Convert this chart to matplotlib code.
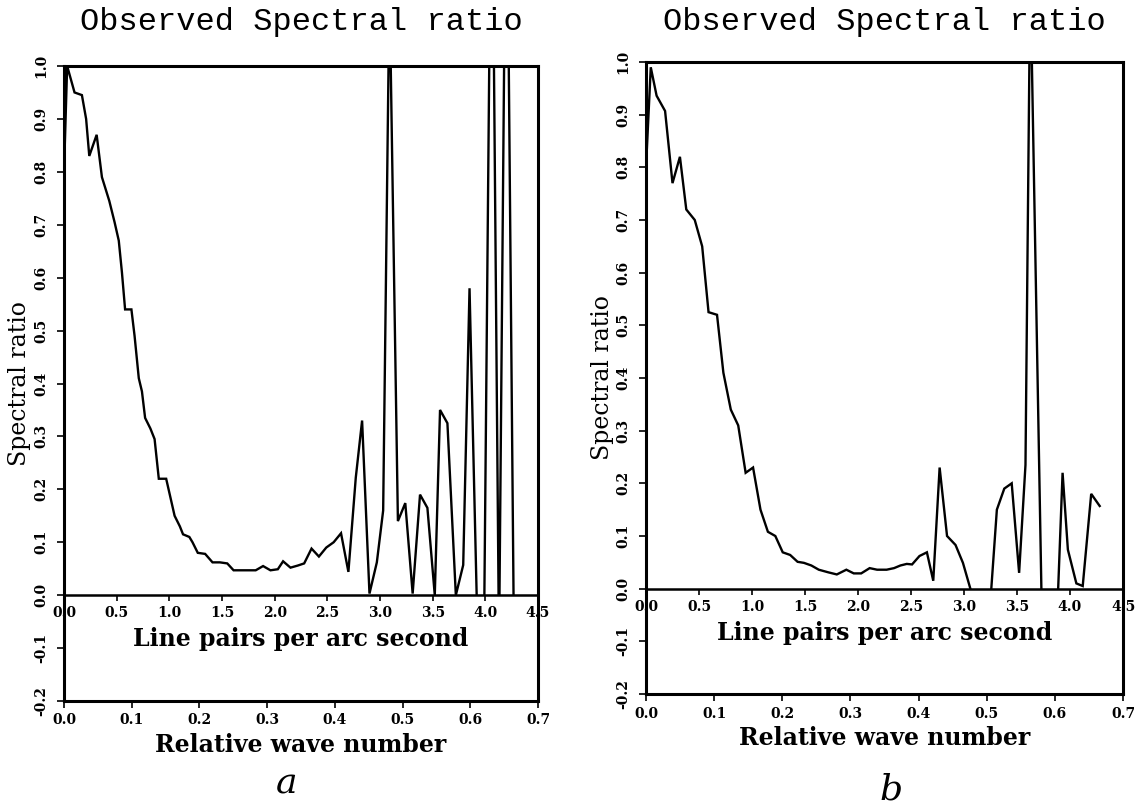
import matplotlib
matplotlib.use("Agg")
import matplotlib.pyplot as plt
from matplotlib.patches import Rectangle

# ---------------- data (x in line pairs per arc second) ----------------
lp_a = [0.00, 0.03, 0.10, 0.17, 0.21, 0.24, 0.31, 0.36, 0.43, 0.48, 0.52, 0.55,
        0.58, 0.64, 0.67, 0.71, 0.74, 0.77, 0.82, 0.86, 0.90, 0.97, 1.01, 1.05,
        1.10, 1.13, 1.19, 1.22, 1.27, 1.34, 1.41, 1.48, 1.55, 1.61, 1.68, 1.75,
        1.82, 1.89, 1.96, 2.03, 2.08, 2.15, 2.22, 2.28, 2.35, 2.42, 2.49, 2.56,
        2.63, 2.70, 2.77, 2.83, 2.90, 2.97, 3.03, 3.09, 3.17, 3.24, 3.31, 3.38,
        3.45, 3.52, 3.57, 3.64, 3.72, 3.79, 3.85, 3.92, 3.99, 4.06, 4.13, 4.20,
        4.27]
ratio_a = [0.80, 1.00, 0.95, 0.945, 0.90, 0.83, 0.87, 0.79, 0.745, 0.705, 0.67, 0.61,
           0.54, 0.54, 0.49, 0.41, 0.385, 0.335, 0.315, 0.295, 0.22, 0.22, 0.185, 0.15,
           0.13, 0.115, 0.11, 0.10, 0.08, 0.078, 0.062, 0.062, 0.06, 0.047, 0.047, 0.047,
           0.047, 0.055, 0.047, 0.049, 0.064, 0.052, 0.056, 0.06, 0.088, 0.073, 0.09, 0.10,
           0.117, 0.044, 0.222, 0.33, 0.003, 0.062, 0.16, 1.15, 0.14, 0.174, 0.003, 0.19,
           0.165, 0.0, 0.35, 0.325, 0.0, 0.057, 0.58, -0.02, -0.02, 1.50, -0.10, 1.50,
           -0.05]

lp_b = [0.00, 0.045, 0.10, 0.18, 0.25, 0.32, 0.38, 0.46, 0.53, 0.59, 0.67, 0.73,
        0.80, 0.87, 0.94, 1.01, 1.08, 1.15, 1.22, 1.29, 1.36, 1.43, 1.49, 1.56,
        1.63, 1.72, 1.80, 1.89, 1.96, 2.03, 2.11, 2.18, 2.27, 2.34, 2.40, 2.46,
        2.51, 2.58, 2.65, 2.71, 2.77, 2.84, 2.92, 2.99, 3.06, 3.13, 3.17, 3.24,
        3.31, 3.38, 3.45, 3.52, 3.58, 3.625, 3.73, 3.80, 3.86, 3.93, 3.98, 4.06,
        4.12, 4.20, 4.28]
ratio_b = [0.80, 0.99, 0.936, 0.907, 0.77, 0.82, 0.72, 0.70, 0.65, 0.525, 0.52, 0.41,
           0.34, 0.31, 0.22, 0.23, 0.15, 0.108, 0.10, 0.069, 0.064, 0.051, 0.049, 0.044,
           0.036, 0.031, 0.027, 0.036, 0.029, 0.029, 0.039, 0.036, 0.036, 0.039, 0.044, 0.047,
           0.046, 0.062, 0.069, 0.015, 0.23, 0.10, 0.083, 0.049, 0.0, -0.15, -0.2, -0.05,
           0.15, 0.19, 0.20, 0.03, 0.235, 1.17, 0.0, -0.2, -0.15, 0.22, 0.074, 0.01,
           0.005, 0.18, 0.157]

y_ticks = [-0.2, -0.1, 0.0, 0.1, 0.2, 0.3, 0.4, 0.5, 0.6, 0.7, 0.8, 0.9, 1.0]
lp_ticks = [0.0, 0.5, 1.0, 1.5, 2.0, 2.5, 3.0, 3.5, 4.0, 4.5]
rel_ticks = [0.0, 0.1, 0.2, 0.3, 0.4, 0.5, 0.6, 0.7]
LP_MAX = 4.5
REL_MAX = 0.7

title_text = "Observed Spectral ratio"
ylabel_text = "Spectral ratio"
lp_label = "Line pairs per arc second"
rel_label = "Relative wave number"

# ---------------- figure ----------------
fig = plt.figure(figsize=(11.44, 8.10), dpi=100)
W, H = 1144.0, 810.0

panels = [
    dict(rect=(64, 66, 538, 701), x=lp_a, y=ratio_a, letter="a", lpos=(287, 783)),
    dict(rect=(646, 62, 1123, 694), x=lp_b, y=ratio_b, letter="b", lpos=(891, 790)),
]

tick_font = dict(family="DejaVu Serif", weight="bold", size=10)
label_font = dict(family="DejaVu Serif", weight="bold", size=17)

for p in panels:
    l, t, r, b = p["rect"]
    ax = fig.add_axes([l / W, 1 - b / H, (r - l) / W, (b - t) / H])
    ax.set_xlim(0, LP_MAX)
    ax.set_ylim(-0.2, 1.0)

    line, = ax.plot(p["x"], p["y"], color="black", lw=1.7, solid_joinstyle="miter")
    clip = Rectangle((0, 0), LP_MAX, 1.0, transform=ax.transData,
                     facecolor="none", edgecolor="none")
    line.set_clip_path(clip)

    for s in ("left", "right", "top"):
        ax.spines[s].set_linewidth(2.2)
    ax.spines["bottom"].set_position(("data", 0))
    ax.spines["bottom"].set_linewidth(1.8)

    # line pairs axis on the y = 0 line
    ax.set_xticks(lp_ticks)
    ax.set_xticklabels([f"{v:.1f}" for v in lp_ticks], **tick_font)
    ax.tick_params(axis="x", direction="out", length=4, width=1.2, pad=4)
    ax.set_xlabel(lp_label, labelpad=5, **label_font)

    # y axis
    ax.set_yticks(y_ticks)
    ax.set_yticklabels([f"{v:.1f}" for v in y_ticks], rotation=90, va="center",
                       **tick_font)
    ax.tick_params(axis="y", direction="out", length=5, width=1.2, pad=6)

    # relative wave number axis at the bottom
    sec = ax.secondary_xaxis(0, functions=(lambda v: v * REL_MAX / LP_MAX,
                                           lambda v: v * LP_MAX / REL_MAX))
    sec.set_xticks(rel_ticks)
    sec.set_xticklabels([f"{v:.1f}" for v in rel_ticks], **tick_font)
    sec.tick_params(axis="x", direction="out", length=5, width=1.2, pad=4)
    sec.spines["bottom"].set_linewidth(2.2)
    sec.set_xlabel(rel_label, labelpad=4, **label_font)

    cx = (l + r) / 2.0
    fig.text(cx / W, 1 - 22 / H, title_text, ha="center", va="center",
             family="Liberation Mono", fontsize=23)
    fig.text((l - 44) / W, 1 - ((t + b) / 2.0) / H, ylabel_text, rotation=90,
             ha="center", va="center", family="DejaVu Serif", fontsize=17)
    fig.text(p["lpos"][0] / W, 1 - p["lpos"][1] / H, p["letter"], ha="center",
             va="center", family="DejaVu Serif", style="italic", fontsize=26)

fig.savefig("out.png", dpi=100)
